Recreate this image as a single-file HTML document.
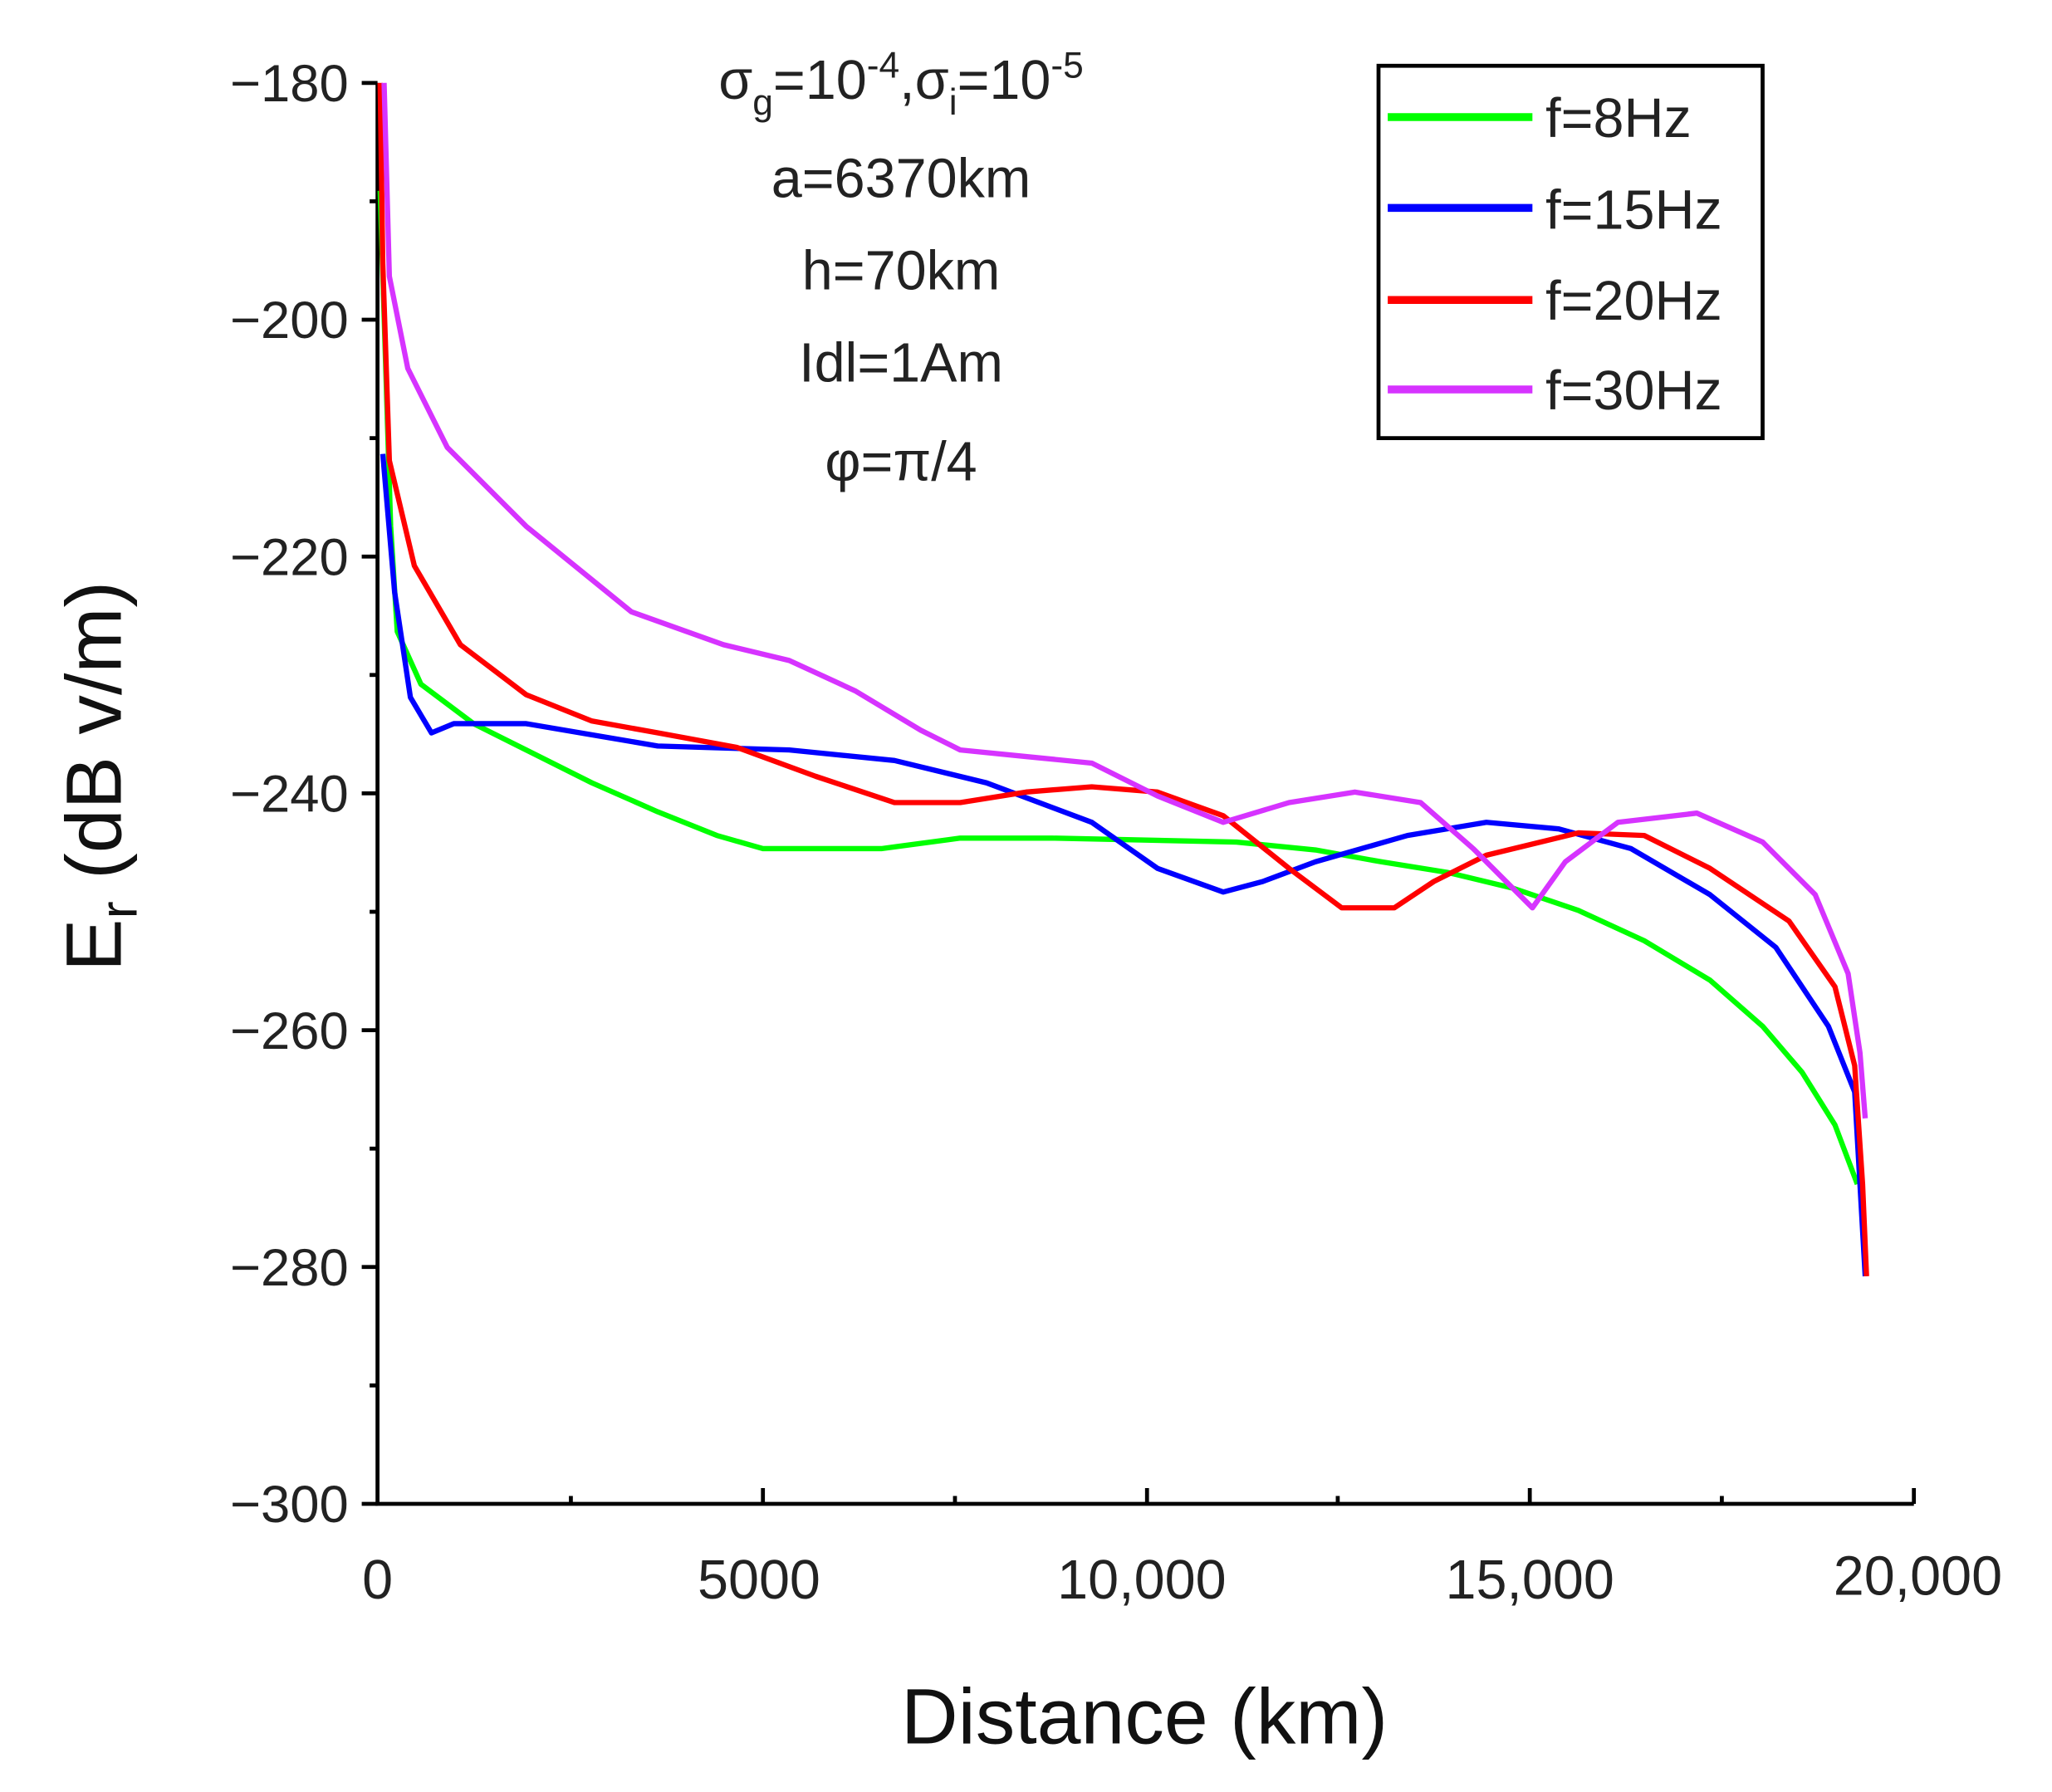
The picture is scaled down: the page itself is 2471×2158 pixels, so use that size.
<!DOCTYPE html>
<html><head><style>html,body{margin:0;padding:0;background:#fff}svg{display:block}</style></head>
<body>
<svg width="2471" height="2158" viewBox="0 0 1560 1362" preserveAspectRatio="none" xmlns="http://www.w3.org/2000/svg" font-family="Liberation Sans, DejaVu Sans, sans-serif">
<rect width="1560" height="1362" fill="#fff"/>
<!-- axes -->
<path d="M287 63 V1143 H1455" fill="none" stroke="#000" stroke-width="3"/>
<g stroke="#000" stroke-width="3">
<line x1="275" y1="63" x2="287" y2="63"/><line x1="275" y1="243" x2="287" y2="243"/><line x1="275" y1="423" x2="287" y2="423"/><line x1="275" y1="603" x2="287" y2="603"/><line x1="275" y1="783" x2="287" y2="783"/><line x1="275" y1="963" x2="287" y2="963"/><line x1="275" y1="1143" x2="287" y2="1143"/>
<line x1="281" y1="153" x2="287" y2="153"/><line x1="281" y1="333" x2="287" y2="333"/><line x1="281" y1="513" x2="287" y2="513"/><line x1="281" y1="693" x2="287" y2="693"/><line x1="281" y1="873" x2="287" y2="873"/><line x1="281" y1="1053" x2="287" y2="1053"/>
<line x1="580" y1="1143" x2="580" y2="1131"/><line x1="872" y1="1143" x2="872" y2="1131"/><line x1="1163" y1="1143" x2="1163" y2="1131"/><line x1="1455" y1="1143" x2="1455" y2="1131"/>
<line x1="434" y1="1143" x2="434" y2="1137"/><line x1="726" y1="1143" x2="726" y2="1137"/><line x1="1017" y1="1143" x2="1017" y2="1137"/><line x1="1309" y1="1143" x2="1309" y2="1137"/>
</g>
<g font-size="40" fill="#222" text-anchor="end">
<text x="265" y="77">−180</text><text x="265" y="257">−200</text><text x="265" y="437">−220</text><text x="265" y="617">−240</text><text x="265" y="797">−260</text><text x="265" y="977">−280</text><text x="265" y="1157">−300</text>
</g>
<g font-size="42" fill="#222" text-anchor="middle">
<text x="287" y="1215">0</text><text x="577" y="1215">5000</text><text x="868" y="1215">10,000</text><text x="1163" y="1215">15,000</text><text x="1458" y="1212">20,000</text>
</g>
<text x="870" y="1325" font-size="60" text-anchor="middle" fill="#111">Distance (km)</text>
<text transform="translate(92,590) rotate(-90)" font-size="60" text-anchor="middle" fill="#111">E<tspan font-size="40" dy="12">r</tspan><tspan dy="-12">  (dB  v/m)</tspan></text>
<!-- annotation -->
<g font-size="42" fill="#222" text-anchor="middle">
<text x="685" y="75">σ<tspan font-size="28" dy="12">g</tspan><tspan dy="-12">=10</tspan><tspan font-size="28" dy="-16">-4</tspan><tspan dy="16">,σ</tspan><tspan font-size="28" dy="12">i</tspan><tspan dy="-12">=10</tspan><tspan font-size="28" dy="-16">-5</tspan></text>
<text x="685" y="150">a=6370km</text>
<text x="685" y="220">h=70km</text>
<text x="685" y="290">Idl=1Am</text>
<text x="685" y="365">φ=π/4</text>
</g>
<!-- legend -->
<rect x="1048" y="50" width="292" height="283" fill="#fff" stroke="#000" stroke-width="3"/>
<g stroke-width="6">
<line x1="1055" y1="89" x2="1165" y2="89" stroke="#00ff00"/>
<line x1="1055" y1="158" x2="1165" y2="158" stroke="#0000ff"/>
<line x1="1055" y1="228" x2="1165" y2="228" stroke="#ff0000"/>
<line x1="1055" y1="296" x2="1165" y2="296" stroke="#d633ff"/>
</g>
<g font-size="42" fill="#222">
<text x="1175" y="104">f=8Hz</text><text x="1175" y="174">f=15Hz</text><text x="1175" y="243">f=20Hz</text><text x="1175" y="311">f=30Hz</text>
</g>
<!-- series -->
<g fill="none" stroke-width="4" stroke-linejoin="round">
<polyline stroke="#00ff00" points="289,145 292,240 297,400 302,480 320,520 360,550 400,570 450,595 500,617 545,635 580,645 670,645 730,637 800,637 940,640 1000,646 1050,655 1100,663 1150,675 1200,692 1250,715 1300,745 1340,780 1370,815 1395,855 1412,900"/>
<polyline stroke="#0000ff" points="291,345 300,450 312,530 328,557 345,550 400,550 500,567 600,570 680,578 750,595 830,625 880,660 930,678 960,670 1000,655 1070,635 1130,625 1185,630 1240,645 1300,680 1350,720 1390,780 1410,830 1418,970"/>
<polyline stroke="#ff0000" points="289,63 291,200 296,350 315,430 350,490 400,528 450,548 500,557 560,568 620,590 680,610 730,610 780,602 830,598 880,602 930,620 980,660 1020,690 1060,690 1090,670 1130,650 1200,633 1250,635 1300,660 1360,700 1395,750 1410,810 1416,900 1419,970"/>
<polyline stroke="#d633ff" points="292,63 296,210 310,280 340,340 400,400 480,465 550,490 600,502 650,525 700,555 730,570 780,575 830,580 880,605 930,625 980,610 1030,602 1080,610 1120,645 1165,690 1190,655 1230,625 1290,618 1340,640 1380,680 1405,740 1414,800 1418,850"/>
</g>
</svg>
</body></html>
